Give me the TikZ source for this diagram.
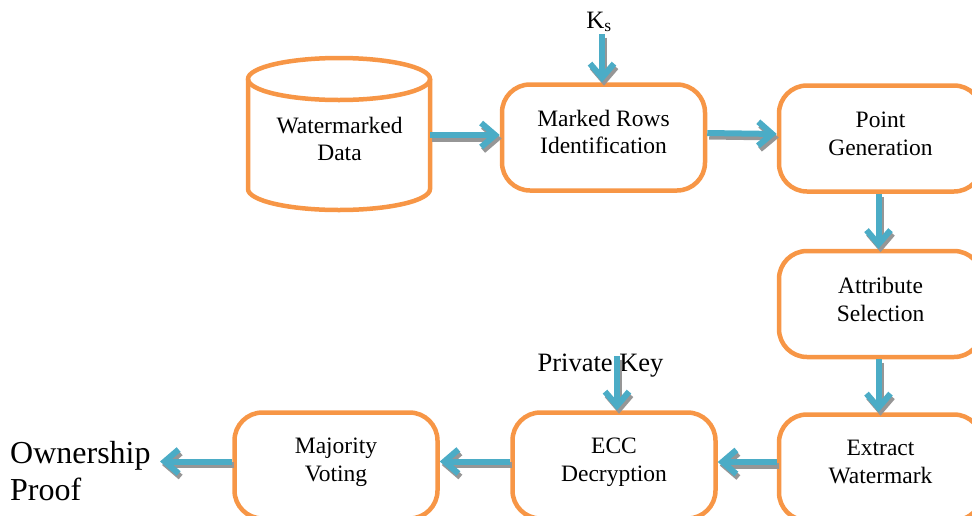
\documentclass[tikz,border=0pt]{standalone}
\usepackage{fontspec}
\setmainfont{Liberation Serif}
\usetikzlibrary{arrows.meta,positioning}

\definecolor{boxorange}{RGB}{247,150,70}
\definecolor{flowblue}{RGB}{75,172,198}
\definecolor{shadegray}{RGB}{150,150,150}

\tikzset{
  stagebox/.style={draw=boxorange, line width=4.5pt, rounded corners=28pt,
    fill=white, minimum width=203pt, minimum height=106pt},
  boxtext/.style={align=center, inner sep=0pt,
    font=\fontsize{23.5}{27.5}\selectfont},
  flowtip/.style={-{Straight Barb[length=14pt,width=24pt,line width=6pt]}},
  flow/.style={draw=flowblue, line width=6pt, flowtip},
  flowshade/.style={draw=shadegray, line width=6pt, flowtip,
    transform canvas={shift={(2pt,-3.5pt)}}},
  keytext/.style={inner sep=0pt}
}
% connector with a soft drop shadow underneath
\newcommand\flowlink[2]{%
  \draw[flowshade] #1 -- #2;
  \draw[flow] #1 -- #2;}

\begin{document}
\begin{tikzpicture}[x=1pt,y=1pt]
\useasboundingbox (0,0) rectangle (972,-515);
\clip (0,0) rectangle (972,-515);

% database cylinder
\draw[boxorange, line width=4.5pt, fill=white]
  (248,-79) -- (248,-189)
  arc[start angle=180, end angle=360, x radius=91pt, y radius=21pt]
  -- (430,-79);
\draw[boxorange, line width=4.5pt] (339,-79) ellipse[x radius=91pt, y radius=21pt];
\node[boxtext] (wd) at (339.5,-139) {Watermarked\\Data};
\coordinate (cylR) at (430,-135);

% processing stages
\node[stagebox] (mr)  at (603.5,-137.5) {};
\node[stagebox] (pg)  at (880.5,-138.5) {};
\node[stagebox] (as)  at (880.5,-304)   {};
\node[stagebox] (ew)  at (880.5,-467.5) {};
\node[stagebox] (ecc) at (614,-465.5)   {};
\node[stagebox] (mv)  at (336,-465.5)   {};

\node[boxtext] (mrT)  at ([yshift=5.5pt]mr)  {Marked Rows\\Identification};
\node[boxtext] (pgT)  at ([yshift=4.5pt]pg)  {Point\\Generation};
\node[boxtext] (asT)  at ([yshift=4.5pt]as)  {Attribute\\Selection};
\node[boxtext] (ewT)  at ([yshift=5.5pt]ew)  {Extract\\Watermark};
\node[boxtext] (eccT) at ([yshift=3.5pt]ecc) {ECC\\Decryption};
\node[boxtext] (mvT)  at ([yshift=3.5pt]mv)  {Majority\\Voting};

\node[align=left, anchor=north west, inner sep=0pt,
      font=\fontsize{32}{37}\selectfont] (own) at (10,-441) {Ownership\\Proof};

% key inputs
\node[keytext, font=\fontsize{25}{30}\selectfont] (ks) at (599,-22) {K\textsubscript{s}};
\coordinate (ksS) at (602,-34);
\node[keytext, font=\fontsize{26.5}{30}\selectfont] (pk) at (600.5,-366) {Private Key};
\coordinate (pkS) at (617,-356);

% connectors
\flowlink{(cylR)}{(cylR -| mr.west)}
\flowlink{([yshift=4.5pt]mr.east)}{([yshift=4.5pt]pg.west)}
\flowlink{([xshift=-2pt]pg.south)}{([xshift=-2pt]as.north)}
\flowlink{([xshift=-2pt]as.south)}{([xshift=-2pt]ew.north)}
\flowlink{([yshift=5.5pt]ew.west)}{([yshift=5.5pt]ew.west -| ecc.east)}
\flowlink{([yshift=4pt]ecc.west)}{([yshift=4pt]ecc.west -| mv.east)}
\flowlink{([yshift=4pt]mv.west)}{(160,-461.5)}
\flowlink{(ksS)}{(ksS |- mr.north)}
\flowlink{(pkS)}{(pkS |- ecc.north)}
\end{tikzpicture}
\end{document}
